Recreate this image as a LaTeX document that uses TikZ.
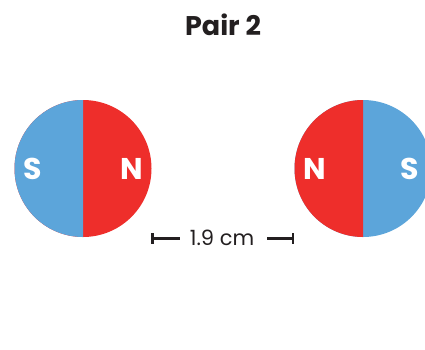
\documentclass[tikz,border=0pt]{standalone}
\usepackage{fontspec}
\setmainfont{Poppins}
\definecolor{mblue}{HTML}{5CA5DA}
\definecolor{mred}{HTML}{EE2E2B}
\definecolor{ink}{HTML}{231F20}
\begin{document}
\begin{tikzpicture}[x=1pt,y=-1pt,
  pole/.style={text=white,font=\fontsize{30}{30}\selectfont\bfseries,inner sep=0pt},
  dimtext/.style={text=ink,font=\fontsize{21}{21}\selectfont,inner sep=0pt},
  dimline/.style={draw=ink,line width=2.2pt}]
\useasboundingbox (0,0) rectangle (425,349);
\clip (0,0) rectangle (425,349);
\node[text=ink,font=\fontsize{27}{27}\selectfont\bfseries,inner sep=0pt] (title) at (223,25) {Pair 2};
% left magnet
\coordinate (c1) at (83,168.5);
\fill[mred] (c1) circle[radius=68.5];
\begin{scope}
\clip (0,0) rectangle (83,349);
\fill[mblue] (c1) circle[radius=68.5];
\end{scope}
\node[pole] (s1) at (33,169) {S};
\node[pole] (n1) at (132,169) {N};
% right magnet
\coordinate (c2) at (363,168.5);
\fill[mblue] (c2) circle[radius=68.5];
\begin{scope}
\clip (0,0) rectangle (363,349);
\fill[mred] (c2) circle[radius=68.5];
\end{scope}
\node[pole] (n2) at (315,169) {N};
\node[pole] (s2) at (410,169) {S};
% dimension
\node[dimtext] (d) at (222,238) {1.9 cm};
\coordinate (l) at (152.5,238.5);
\coordinate (r) at (293,238.5);
\draw[dimline] (l) -- (180,238.5);
\draw[dimline] (267,238.5) -- (r);
\draw[dimline] (152.5,233) -- (152.5,244);
\draw[dimline] (293,233) -- (293,244);
\end{tikzpicture}
\end{document}
